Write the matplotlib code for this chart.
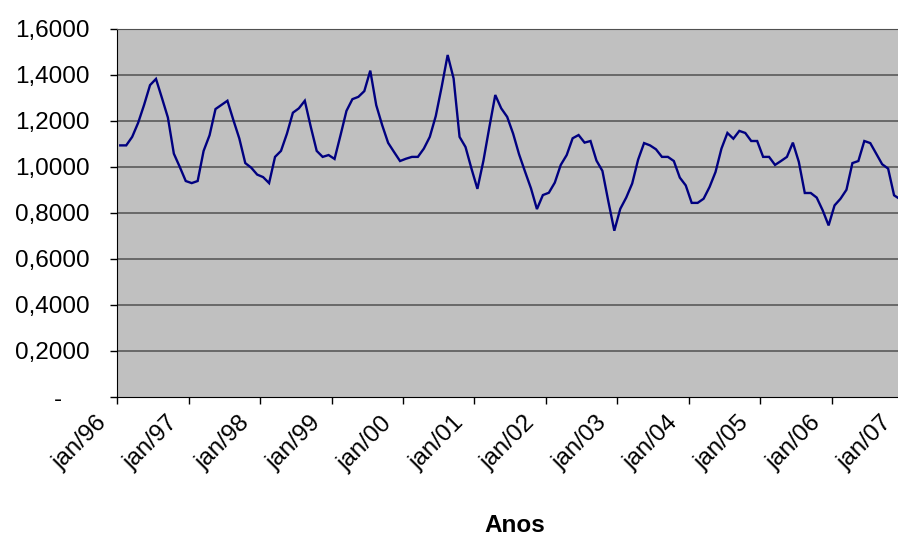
import numpy as np
import matplotlib.pyplot as plt
from matplotlib.transforms import ScaledTranslation

plt.rcParams['font.family'] = ['Liberation Sans', 'DejaVu Sans']

# monthly values, jan/96 .. dec/06
valores = [
    1.094, 1.094, 1.131, 1.192, 1.270, 1.356, 1.383, 1.300, 1.215, 1.058, 1.000, 0.939,
    0.930, 0.939, 1.070, 1.138, 1.252, 1.270, 1.288, 1.204, 1.124, 1.017, 0.997, 0.967,
    0.956, 0.930, 1.044, 1.070, 1.145, 1.236, 1.255, 1.288, 1.175, 1.070, 1.044, 1.052,
    1.035, 1.138, 1.244, 1.295, 1.305, 1.330, 1.419, 1.269, 1.182, 1.105, 1.065, 1.026,
    1.036, 1.044, 1.044, 1.080, 1.131, 1.221, 1.349, 1.487, 1.385, 1.131, 1.087, 0.993,
    0.905, 1.026, 1.172, 1.313, 1.255, 1.218, 1.145, 1.055, 0.980, 0.907, 0.817, 0.878,
    0.888, 0.932, 1.009, 1.052, 1.125, 1.139, 1.106, 1.113, 1.028, 0.983, 0.850, 0.723,
    0.818, 0.867, 0.928, 1.032, 1.104, 1.094, 1.077, 1.044, 1.044, 1.026, 0.954, 0.920,
    0.844, 0.844, 0.862, 0.913, 0.978, 1.080, 1.148, 1.123, 1.157, 1.148, 1.113, 1.113,
    1.044, 1.044, 1.009, 1.026, 1.044, 1.106, 1.022, 0.887, 0.887, 0.867, 0.812, 0.746,
    0.833, 0.862, 0.901, 1.017, 1.026, 1.113, 1.104, 1.058, 1.012, 0.993, 0.877, 0.860,
]
anos = ['jan/96', 'jan/97', 'jan/98', 'jan/99', 'jan/00', 'jan/01',
        'jan/02', 'jan/03', 'jan/04', 'jan/05', 'jan/06', 'jan/07']
y_ticks = [0, 0.2, 0.4, 0.6, 0.8, 1.0, 1.2, 1.4, 1.6]
y_labels = ['-    ', '0,2000', '0,4000', '0,6000', '0,8000', '1,0000',
            '1,2000', '1,4000', '1,6000']

# points sit in the middle of each month slot (excel "between tick marks")
meses = np.arange(len(valores)) + 0.5

W, H = 898, 538
fig = plt.figure(figsize=(W / 100, H / 100), dpi=100)
left, right, top, bottom = 117.3, 903.0, 29.0, 397.0
ax = fig.add_axes([left / W, 1 - bottom / H, (right - left) / W, (bottom - top) / H])
ax.set_facecolor('#c0c0c0')

ax.plot(meses, valores, color='#000080', lw=1.7, solid_joinstyle='miter')

ax.set_xlim(0, len(valores))
ax.set_ylim(0, 1.6)
ax.set_xticks(np.arange(0, len(valores) + 1, 12))
ax.set_xticklabels(anos, rotation=45, ha='right', va='top', rotation_mode='anchor')
ax.set_yticks(y_ticks)
ax.set_yticklabels(y_labels)

for v in y_ticks[1:]:
    ax.axhline(v, color='#505050', lw=1.1, zorder=1)

ax.spines['left'].set_color('black')
ax.spines['bottom'].set_color('black')
ax.spines['top'].set_color('#505050')
ax.spines['right'].set_visible(False)
ax.tick_params(axis='y', length=5, width=1, pad=15, labelsize=17.5)
ax.tick_params(axis='x', length=5, width=1, pad=3, labelsize=17.5)

shift = ScaledTranslation(-22 / 100, -4 / 100, fig.dpi_scale_trans)
for lab in ax.get_xticklabels():
    lab.set_transform(lab.get_transform() + shift)

fig.text(515 / W, 1 - 525 / H, 'Anos', ha='center', va='center',
         fontsize=17.5, fontweight='bold')

fig.savefig('out.png', dpi=100)
